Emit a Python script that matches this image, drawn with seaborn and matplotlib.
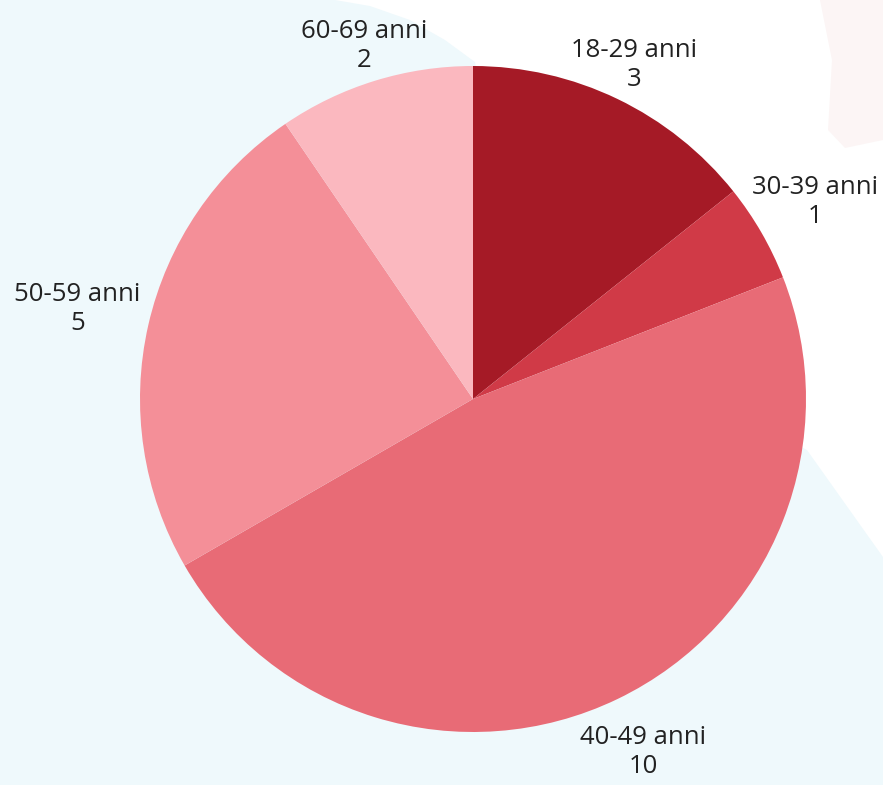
import matplotlib
matplotlib.use('Agg')
import matplotlib.pyplot as plt
from matplotlib.patches import Polygon
import numpy as np
import seaborn as sns

labels = ['18-29 anni', '30-39 anni', '40-49 anni', '50-59 anni', '60-69 anni']
counts = [3, 1, 10, 5, 2]
colors = ['#a51a26', '#d03a47', '#e86b76', '#f48f98', '#fbb8bf']

sns.set_theme(style='white')
plt.rcParams['font.family'] = ['Open Sans', 'DejaVu Sans']

W, H = 883, 785
CX, CY, R = 473, 386, 333   # pie centre (from bottom) and radius in pixels
PAD = 8                      # gap between pie edge and label box, px

fig = plt.figure(figsize=(W / 100, H / 100), dpi=100)
fig.patch.set_facecolor('#eff9fc')

# background layer: white shape and faint pink blob top right
bg_ax = fig.add_axes([0, 0, 1, 1], zorder=0)
bg_ax.set_xlim(0, W)
bg_ax.set_ylim(H, 0)
bg_ax.axis('off')
bg_ax.add_patch(Polygon([(335, 0), (W, 0), (W, 557), (807, 450), (520, 300),
                         (475, 62), (445, 40), (410, 20), (370, 6)],
                        closed=True, facecolor='white', edgecolor='none'))
bg_ax.add_patch(Polygon([(820, 0), (W, 0), (W, 140), (845, 148), (828, 130),
                         (832, 60)],
                        closed=True, facecolor='#fcf5f5', edgecolor='none'))

ax = fig.add_axes([0, 0, 1, 1], zorder=1)
ax.set_facecolor('none')

texts_in = [f'{l}\n{c}' for l, c in zip(labels, counts)]
wedges, texts = ax.pie(counts, labels=texts_in, colors=colors, startangle=90,
                       counterclock=False, labeldistance=1.1,
                       wedgeprops=dict(linewidth=0),
                       textprops=dict(fontsize=18.5, color='#222222',
                                      linespacing=1.2))
ax.set_aspect('auto')
ax.set_xlim(-CX / R, (W - CX) / R)
ax.set_ylim(-CY / R, (H - CY) / R)
ax.axis('off')

# put each label box just outside the slice, at the slice's mid angle
fig.canvas.draw()
renderer = fig.canvas.get_renderer()
for w, t in zip(wedges, texts):
    t.set_horizontalalignment('center')
    t.set_verticalalignment('center')
    ang = np.deg2rad((w.theta1 + w.theta2) / 2)
    c, s = np.cos(ang), np.sin(ang)
    bb = t.get_window_extent(renderer)
    hw, hh = bb.width / 2, bb.height / 2
    if s < 0:
        hh = bb.height * 0.85   # labels under the pie hang a bit lower
    d = min(hw / max(abs(c), 1e-6), hh / max(abs(s), 1e-6))
    dist = (R + PAD + d) / R
    t.set_position((dist * c, dist * s))

fig.savefig('out.png', dpi=100, facecolor=fig.get_facecolor())
plt.close()
